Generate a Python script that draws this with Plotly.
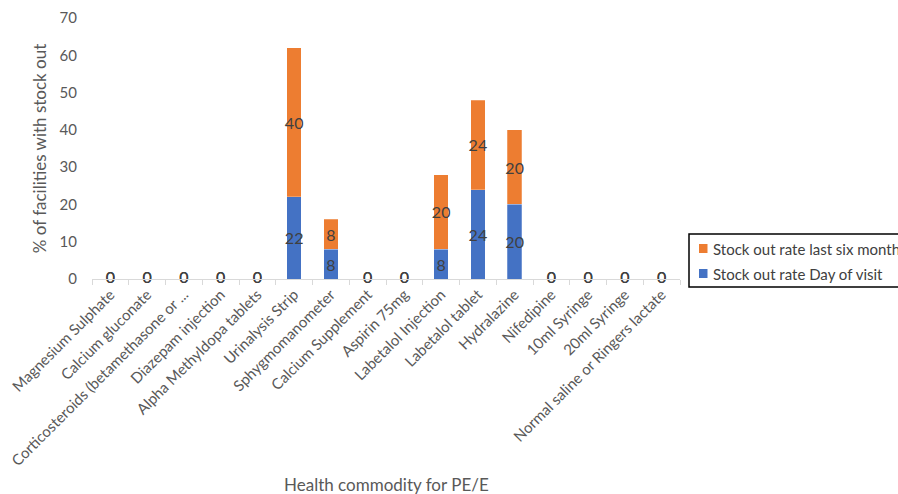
import plotly.graph_objects as go

# Commodities tracked for pre-eclampsia / eclampsia (PE/E)
commodities = [
    "Magnesium Sulphate",
    "Calcium gluconate",
    "Corticosteroids (betamethasone or ...",
    "Diazepam injection",
    "Alpha Methyldopa tablets",
    "Urinalysis Strip",
    "Sphygmomanometer",
    "Calcium Supplement",
    "Aspirin 75mg",
    "Labetalol Injection",
    "Labetalol tablet",
    "Hydralazine",
    "Nifedipine",
    "10ml Syringe",
    "20ml Syringe",
    "Normal saline or Ringers lactate",
]

# % of facilities with a stock out
day_of_visit = [0, 0, 0, 0, 0, 22, 8, 0, 0, 8, 24, 20, 0, 0, 0, 0]
last_six_months = [0, 0, 0, 0, 0, 40, 8, 0, 0, 20, 24, 20, 0, 0, 0, 0]

series_names = ["Stock out rate Day of visit", "Stock out rate last six month"]
y_ticks = [0, 10, 20, 30, 40, 50, 60, 70]

BLUE = "#4472C4"
ORANGE = "#ED7D31"
LABEL = "#404040"
AXIS_TEXT = "#595959"
FONT = "Lato, Open Sans, sans-serif"

# plot-area geometry in pixels (used to place the legend box)
L, R, T, B = 92, 680, 18, 279
PW, PH = R - L, B - T


def px(x):
    return (x - L) / PW


def py(y):
    return (B - y) / PH


fig = go.Figure()

for name, vals, color in [
    (series_names[0], day_of_visit, BLUE),
    (series_names[1], last_six_months, ORANGE),
]:
    fig.add_trace(go.Bar(
        x=commodities,
        y=vals,
        name=name,
        marker=dict(color=color, line=dict(color="rgba(255,255,255,0.5)", width=0.5)),
        text=[str(v) if v else "" for v in vals],
        textposition="inside",
        insidetextanchor="middle",
        textangle=0,
        textfont=dict(family=FONT, size=16, color=LABEL),
        constraintext="none",
        showlegend=False,
    ))

# zero-valued segments still get their "0" data label on the baseline
for vals in (day_of_visit, last_six_months):
    zx = [c for c, v in zip(commodities, vals) if v == 0]
    zt = [str(v) for v in vals if v == 0]
    fig.add_trace(go.Scatter(
        x=zx,
        y=[0] * len(zx),
        mode="text",
        text=zt,
        textposition="middle center",
        textfont=dict(family=FONT, size=16, color=LABEL),
        showlegend=False,
        hoverinfo="skip",
        cliponaxis=False,
    ))

# legend box: border, colour keys and labels (last six months listed first)
shapes = [
    dict(type="rect", xref="paper", yref="paper",
         x0=px(689), x1=px(910), y0=py(287), y1=py(234),
         line=dict(color="black", width=1.5), fillcolor="white", layer="above"),
]
annotations = []
for (name, color, yc) in [
    (series_names[1], ORANGE, 248.5),
    (series_names[0], BLUE, 273.5),
]:
    shapes.append(dict(type="rect", xref="paper", yref="paper",
                       x0=px(699), x1=px(707.5), y0=py(yc + 4.5), y1=py(yc - 4.5),
                       line=dict(width=0), fillcolor=color, layer="above"))
    annotations.append(dict(text=name, xref="paper", yref="paper",
                            x=px(711), y=py(yc), xanchor="left", yanchor="middle",
                            showarrow=False,
                            font=dict(family=FONT, size=15, color=LABEL)))

annotations.append(dict(
    text="Health commodity for PE/E",
    xref="paper", yref="paper",
    x=0.5, y=0,
    yshift=-205,
    showarrow=False,
    font=dict(family=FONT, size=17, color=AXIS_TEXT),
    xanchor="center",
    yanchor="middle",
))

fig.update_layout(
    width=898,
    height=494,
    barmode="stack",
    bargap=0.6,
    plot_bgcolor="white",
    paper_bgcolor="white",
    font=dict(family=FONT, color=AXIS_TEXT),
    margin=dict(l=L, r=898 - R, t=T, b=494 - B, autoexpand=False),
    showlegend=False,
    xaxis=dict(
        type="category",
        range=[-0.5, len(commodities) - 0.5],
        tickangle=-45,
        tickfont=dict(family=FONT, size=15, color=AXIS_TEXT),
        showline=True,
        linecolor="#D9D9D9",
        linewidth=1,
        ticks="outside",
        tickson="boundaries",
        ticklen=5,
        tickcolor="#D9D9D9",
        showgrid=False,
        zeroline=False,
    ),
    yaxis=dict(
        range=[0, 70],
        tickvals=y_ticks,
        tickfont=dict(family=FONT, size=15, color=AXIS_TEXT),
        showgrid=False,
        zeroline=False,
        showline=False,
        ticklabelstandoff=14,
        title=dict(
            text="% of facilities with stock out",
            font=dict(family=FONT, size=17, color=AXIS_TEXT),
            standoff=8,
        ),
    ),
    shapes=shapes,
    annotations=annotations,
)

fig.write_html("out.html")
